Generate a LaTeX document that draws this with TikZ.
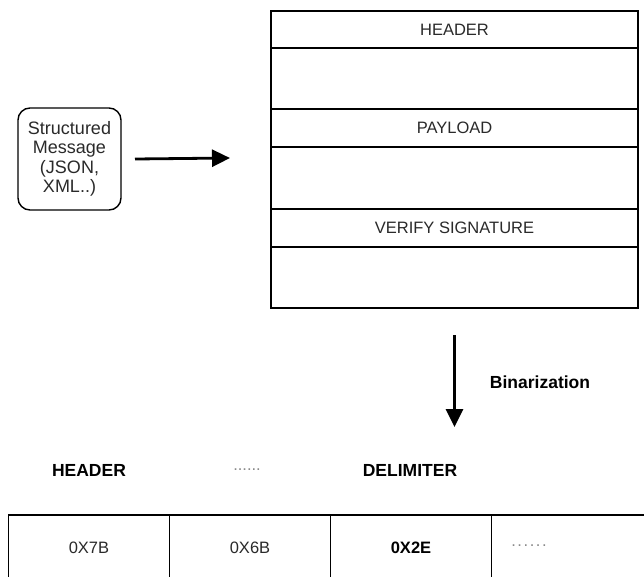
\documentclass[tikz,border=0pt]{standalone}
\usepackage{fontspec}
\setmainfont{Liberation Sans}
\usetikzlibrary{arrows.meta}
\definecolor{txt}{HTML}{2A2A2A}
\definecolor{dots}{HTML}{8A8A8A}
\newcommand{\sparsedots}{.\kern1.6pt.\kern1.6pt.\kern1.6pt.\kern1.6pt.\kern1.6pt.}
\begin{document}
\begin{tikzpicture}[x=1pt,y=-1pt,
  every node/.style={font=\fontsize{16.5}{19}\selectfont, text=txt},
  band/.style={draw=black, line width=1.4pt, minimum width=367pt, inner sep=0pt, outer sep=0pt, anchor=north},
  cell/.style={draw=black, line width=1.4pt, minimum width=161pt, minimum height=66pt, inner sep=0pt, outer sep=0pt},
  bold/.style={font=\fontsize{17.5}{19}\selectfont\bfseries, text=black},
  dotted text/.style={text=dots},
  bigarrow/.style={line width=2.8pt, -{Triangle[length=18pt,width=17pt]}}]
\useasboundingbox (0,0) rectangle (644,576);
\clip (0,0) rectangle (644,576);
\fill[white] (0,0) rectangle (644,576);

% structured message box
\node[draw=black, line width=1.4pt, rounded corners=12pt, minimum width=103pt, minimum height=102pt,
      align=center, inner sep=0pt, outer sep=0pt, font=\fontsize{18}{19.5}\selectfont] (msg) at (69.5,159) {Structured\\Message\\(JSON,\\XML..)};

% big stacked box
\node[band, minimum height=37pt] (h1) at (454.5,11) {HEADER};
\node[band, minimum height=61pt] (h2) at (h1.south) {};
\node[band, minimum height=38pt] (h3) at (h2.south) {PAYLOAD};
\node[band, minimum height=62pt] (h4) at (h3.south) {};
\node[band, minimum height=38pt] (h5) at (h4.south) {VERIFY SIGNATURE};
\node[band, minimum height=61pt] (h6) at (h5.south) {};

% arrows
\draw[bigarrow] ([xshift=14pt]msg.east) -- ([xshift=-41pt,yshift=1pt]h3.west |- msg.east);
\draw[bigarrow] ([yshift=-27pt]h6.south) -- ([yshift=-119pt]h6.south);
\node[bold] (bin) at (540,382) {Binarization};

% labels above the byte row
\node[bold] (lh) at (89,470) {HEADER};
\node[dotted text] (ld) at (247,470) {......};
\node[bold] (ldel) at (410,470) {DELIMITER};

% byte row
\node[cell] (c1) at (89,548) {0X7B};
\node[cell] (c2) at (c1.east) [anchor=west] {0X6B};
\node[cell, font=\fontsize{16.5}{19}\selectfont\bfseries, text=black] (c3) at (c2.east) [anchor=west] {0X2E};
\node[cell] (c4) at (c3.east) [anchor=west] {};
\node[dotted text] (cd) at (529,546) {\sparsedots};
\end{tikzpicture}
\end{document}
